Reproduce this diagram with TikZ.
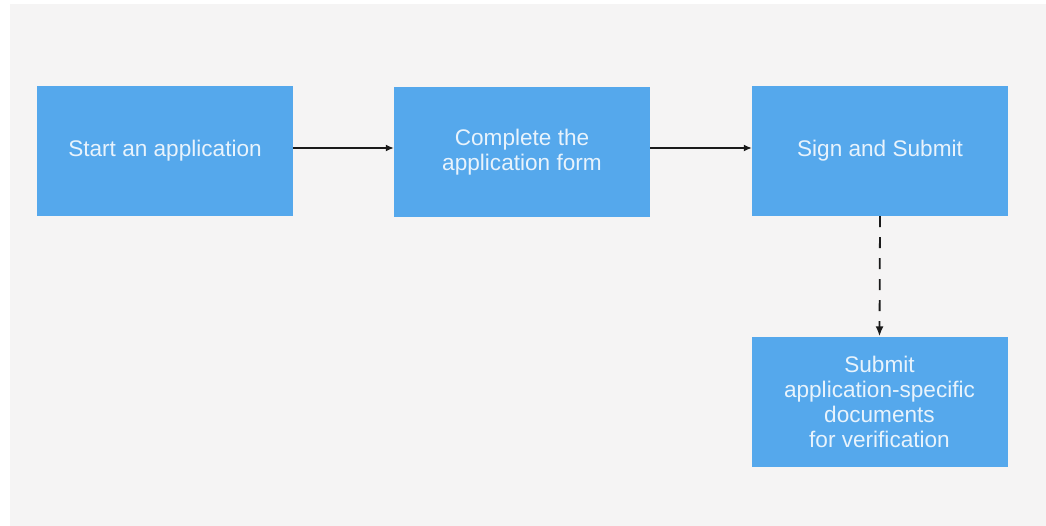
\documentclass[tikz,border=0pt]{standalone}
\usepackage{fontspec}
\setmainfont{Liberation Sans}
\usetikzlibrary{arrows.meta}
\definecolor{bgray}{HTML}{F5F4F4}
\definecolor{boxblue}{HTML}{55A8EC}
\definecolor{boxtext}{HTML}{E8F3FC}
\definecolor{linecol}{HTML}{1A1A1A}
\tikzset{
  stepbox/.style={fill=boxblue, draw=none, minimum width=256pt, minimum height=130pt,
    inner sep=0pt, text=boxtext, align=center,
    font=\fontsize{22.6pt}{25pt}\selectfont},
  flow/.style={draw=linecol, line width=1.4pt, -{Latex[length=8pt,width=7pt]}},
  dflow/.style={draw=linecol, line width=1.8pt, dash pattern=on 11pt off 10pt,
    -{Latex[length=10pt,width=8pt]}}
}
\begin{document}
\begin{tikzpicture}[x=1pt,y=-1pt]
\useasboundingbox (0,0) rectangle (1046,526);
\fill[white] (0,0) rectangle (1046,526);
\fill[bgray] (10,4) rectangle (1046,526);
\node[stepbox] (b1) at (165,151) {Start an application};
\node[stepbox] (b2) at (522,152) {Complete the\\application form};
\node[stepbox] (b3) at (880,151) {Sign and Submit};
\node[stepbox] (b4) at (879.5,401.5) {Submit\\application-specific\\documents\\for verification};
\draw[flow] ([yshift=3pt]b1.east) -- ([yshift=3pt]b1.east -| b2.west);
\draw[flow] ([yshift=4pt]b2.east) -- ([yshift=4pt]b2.east -| b3.west);
\draw[dflow] (b3.south) -- (b4.north);
\end{tikzpicture}
\end{document}
